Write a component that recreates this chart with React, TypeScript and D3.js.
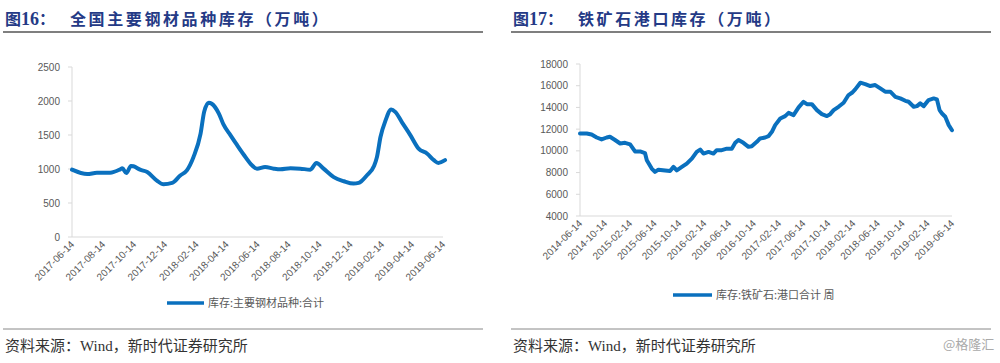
import React from "react";
import * as d3 from "d3";

// ---------- Data ----------
const steelDates = [
  "2017-06-14","2017-07-14","2017-08-02","2017-08-28","2017-09-17","2017-09-21","2017-09-29","2017-10-08",
  "2017-10-13","2017-10-26","2017-11-09","2017-11-28","2017-12-11","2017-12-28","2018-01-13","2018-01-26",
  "2018-02-08","2018-02-22","2018-03-01","2018-03-10","2018-03-16","2018-03-30","2018-04-08","2018-04-22",
  "2018-05-05","2018-05-18","2018-05-31","2018-06-13","2018-06-29","2018-07-16","2018-07-29","2018-08-18",
  "2018-09-06","2018-09-26","2018-10-08","2018-10-22","2018-11-11","2018-12-01","2018-12-20","2018-12-30",
  "2019-01-15","2019-01-29","2019-02-04","2019-02-11","2019-02-21","2019-03-04","2019-03-12","2019-03-25",
  "2019-04-11","2019-04-27","2019-05-14","2019-05-27","2019-06-05","2019-06-18"
];
const steelValues = [
  990, 925, 945, 945, 995, 1010, 940, 1045,
  1040, 990, 955, 830, 775, 795, 905, 980,
  1175, 1520, 1840, 1975, 1960, 1815, 1655, 1495,
  1350, 1210, 1080, 1005, 1030, 1005, 995, 1010,
  1005, 990, 1090, 1005, 880, 820, 785, 795,
  905, 1040, 1175, 1470, 1715, 1875, 1840, 1690,
  1495, 1300, 1225, 1130, 1090, 1130
];
const steelTicks = [
  "2017-06-14","2017-08-14","2017-10-14","2017-12-14","2018-02-14","2018-04-14","2018-06-14",
  "2018-08-14","2018-10-14","2018-12-14","2019-02-14","2019-04-14","2019-06-14"
];
const steelYTicks = [0, 500, 1000, 1500, 2000, 2500];

const oreDates = [
  "2014-06-14","2014-07-17","2014-08-10","2014-09-04","2014-09-28","2014-10-23","2014-11-08","2014-12-03",
  "2014-12-28","2015-01-21","2015-02-15","2015-03-11","2015-04-05","2015-04-29","2015-05-08","2015-06-01",
  "2015-06-17","2015-07-04","2015-08-06","2015-08-30","2015-09-16","2015-10-02","2015-10-27","2015-11-20",
  "2015-12-15","2016-01-08","2016-01-25","2016-02-10","2016-03-06","2016-03-30","2016-04-15","2016-05-10",
  "2016-06-04","2016-06-28","2016-07-15","2016-07-31","2016-08-24","2016-09-18","2016-10-04","2016-10-29",
  "2016-11-14","2016-12-09","2016-12-25","2017-01-11","2017-01-27","2017-02-21","2017-03-17","2017-04-03",
  "2017-04-27","2017-05-22","2017-06-15","2017-07-02","2017-07-26","2017-08-20","2017-09-13","2017-10-08",
  "2017-10-24","2017-11-10","2017-12-04","2017-12-29","2018-01-22","2018-02-08","2018-02-24","2018-03-21",
  "2018-04-14","2018-05-09","2018-06-02","2018-06-27","2018-07-21","2018-08-15","2018-09-09","2018-10-03",
  "2018-10-28","2018-11-13","2018-12-08","2018-12-24","2019-01-09","2019-01-26","2019-02-19","2019-03-16",
  "2019-04-01","2019-04-14","2019-04-26","2019-05-12","2019-05-29","2019-06-14"
];
const oreValues = [
  11600, 11600, 11500, 11230, 11050, 11230, 11300, 11000,
  10680, 10740, 10600, 9950, 9950, 9800, 9140, 8370,
  8060, 8270, 8200, 8150, 8520, 8200, 8520, 8830,
  9290, 9910, 10120, 9750, 9900, 9750, 10060, 10060,
  10200, 10200, 10740, 11000, 10740, 10370, 10430, 10830,
  11140, 11230, 11350, 11750, 12370, 12980, 13200, 13500,
  13290, 14000, 14520, 14300, 14300, 13750, 13380, 13200,
  13380, 13750, 14060, 14430, 15140, 15350, 15660, 16280,
  16150, 15970, 16060, 15750, 15450, 15450, 14980, 14830,
  14610, 14520, 14060, 14120, 14370, 14120, 14680, 14830,
  14740, 13750, 13440, 13140, 12370, 11900
];
const oreTicks = [
  "2014-06-14","2014-10-14","2015-02-14","2015-06-14","2015-10-14","2016-02-14","2016-06-14","2016-10-14",
  "2017-02-14","2017-06-14","2017-10-14","2018-02-14","2018-06-14","2018-10-14","2019-02-14","2019-06-14"
];
const oreYTicks = [4000, 6000, 8000, 10000, 12000, 14000, 16000, 18000];

const parse = d3.utcParse("%Y-%m-%d");
const LINE = "#0A70BE";
const AXIS = "#D9D9D9";
const LABEL = "#595959";
const TITLE = "#243A86";
const SANS = "'Liberation Sans', 'Noto Sans CJK SC', sans-serif";
const CJK = "'Noto Sans CJK SC', sans-serif";

type PanelProps = {
  ox: number;
  titleNum: string;
  title: string;
  dates: string[];
  values: number[];
  ticks: string[];
  yTicks: number[];
  yDomain: [number, number];
  x0: number; x1: number; yTop: number; yBot: number;
  legend: string;
  legendX: number; legendY: number; legendLen: number;
  strokeW: number;
  curve: any;
  labelDy: number;
};

function Panel(p: PanelProps) {
  const dts = p.dates.map((d) => parse(d) as Date);
  const tks = p.ticks.map((d) => parse(d) as Date);
  const x = d3.scaleUtc().domain([tks[0], tks[tks.length - 1]]).range([p.x0, p.x1]);
  const y = d3.scaleLinear().domain(p.yDomain).range([p.yBot, p.yTop]);
  const pts: [Date, number][] = dts.map((d, i) => [d, p.values[i]]);
  const line = d3
    .line<[Date, number]>()
    .x((d) => x(d[0]))
    .y((d) => y(d[1]))
    .curve(p.curve);
  return (
    <g transform={`translate(${p.ox},0)`}>
      <text x={5} y={25} fontFamily={CJK} fontSize={16} fontWeight="bold" fill={TITLE}>
        <tspan>图</tspan>
        <tspan fontFamily="'Liberation Serif', serif" fontSize={18}>{p.titleNum}</tspan>
        <tspan>：</tspan>
        <tspan x={70} letterSpacing={2.6}>{p.title}</tspan>
      </text>
      <line x1={3} x2={483} y1={32} y2={32} stroke="#555" strokeWidth={1.5} />
      {/* axes */}
      <line x1={p.x0} x2={p.x0} y1={p.yTop} y2={p.yBot} stroke={AXIS} strokeWidth={1} />
      <line x1={p.x0} x2={p.x1} y1={p.yBot} y2={p.yBot} stroke={AXIS} strokeWidth={1} />
      {p.yTicks.map((t) => (
        <g key={t}>
          <line x1={p.x0 - 4} x2={p.x0} y1={y(t)} y2={y(t)} stroke={AXIS} />
          <text x={p.x0 - 12} y={y(t)} dy="0.35em" textAnchor="end" fontFamily={SANS} fontSize={10} fill={LABEL}>
            {t}
          </text>
        </g>
      ))}
      {tks.map((t, i) => (
        <text
          key={i}
          transform={`translate(${x(t) + 3},${p.yBot + p.labelDy}) rotate(-45)`}
          textAnchor="end"
          fontFamily={SANS}
          fontSize={10}
          fill={LABEL}
        >
          {p.ticks[i]}
        </text>
      ))}
      <path d={line(pts) || ""} fill="none" stroke={LINE} strokeWidth={p.strokeW} strokeLinejoin="round" strokeLinecap="round" />
      {/* legend */}
      <line x1={p.legendX} x2={p.legendX + p.legendLen} y1={p.legendY} y2={p.legendY} stroke={LINE} strokeWidth={3.5} />
      <text x={p.legendX + p.legendLen + 4} y={p.legendY} dy="0.35em" fontFamily={CJK} fontSize={11} fill={LABEL}>
        {p.legend}
      </text>
      {/* source */}
      <line x1={3} x2={483} y1={329} y2={329} stroke="#888" strokeWidth={1} />
      <text x={5} y={351} fontFamily={"'Liberation Serif', 'Noto Sans CJK SC', serif"} fontSize={15} fill="#333">
        资料来源：Wind，新时代证券研究所
      </text>
    </g>
  );
}

export default function App() {
  return (
    <svg width={1000} height={363} style={{ position: "absolute", left: 0, top: 0, background: "#fff" }}>
      <rect width={1000} height={363} fill="#fff" />
      <Panel
        ox={0}
        titleNum="16"
        title="全国主要钢材品种库存（万吨）"
        dates={steelDates}
        values={steelValues}
        ticks={steelTicks}
        yTicks={steelYTicks}
        yDomain={[0, 2500]}
        x0={72} x1={443} yTop={67} yBot={237}
        legend="库存:主要钢材品种:合计"
        legendX={167} legendY={303} legendLen={37}
        strokeW={4}
        curve={d3.curveMonotoneX}
        labelDy={8}
      />
      <Panel
        ox={508}
        titleNum="17"
        title="铁矿石港口库存（万吨）"
        dates={oreDates}
        values={oreValues}
        ticks={oreTicks}
        yTicks={oreYTicks}
        yDomain={[4000, 18000]}
        x0={72} x1={444} yTop={64} yBot={216}
        legend="库存:铁矿石:港口合计 周"
        legendX={165} legendY={295} legendLen={39}
        strokeW={4}
        curve={d3.curveLinear}
        labelDy={8}
      />
      <text x={943} y={349} fontFamily={CJK} fontSize={13} fill="#aaa">@格隆汇</text>
    </svg>
  );
}
